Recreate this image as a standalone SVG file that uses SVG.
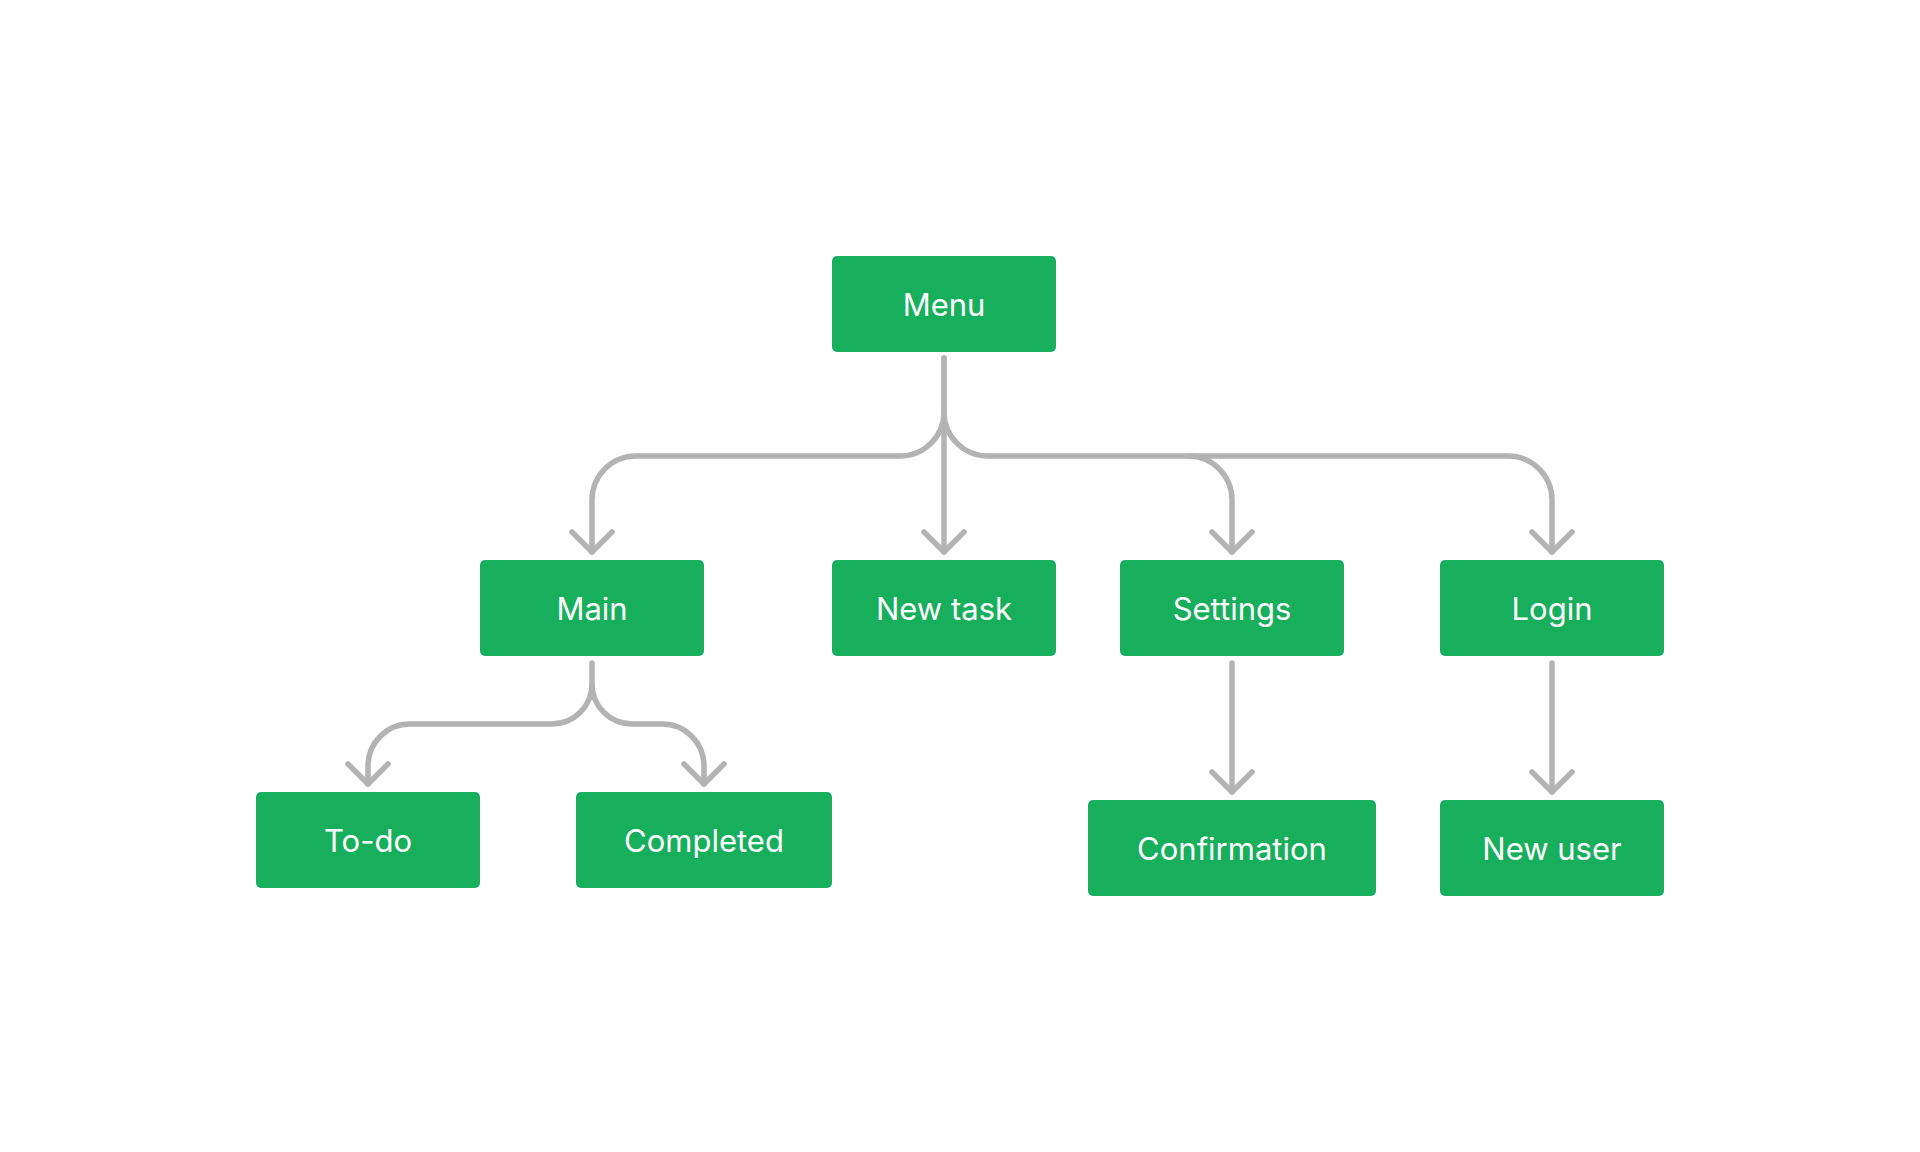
<svg xmlns="http://www.w3.org/2000/svg" width="1920" height="1152" viewBox="0 0 1920 1152">
  <style>
    .box { fill: #17AF5C; }
    .lbl { fill: #FFFFFF; font-family: Inter, "Noto Sans", "Liberation Sans", sans-serif; font-size: 31px; font-weight: 400; text-anchor: middle; dominant-baseline: central; }
    .edge { fill: none; stroke: #B3B3B3; stroke-width: 5.5; stroke-linecap: round; stroke-linejoin: round; }
  </style>
  <rect width="1920" height="1152" fill="#FFFFFF"/>
  <g id="connectors">
    <path class="edge" d="M944,358 V552"/>
    <path class="edge" d="M924,532 L944,552 L964,532"/>
    <path class="edge" d="M944,358 V412 A44 44 0 0 1 900,456 H636 A44 44 0 0 0 592,500 V552"/>
    <path class="edge" d="M572,532 L592,552 L612,532"/>
    <path class="edge" d="M944,412 A44 44 0 0 0 988,456 H1188 A44 44 0 0 1 1232,500 V552"/>
    <path class="edge" d="M1212,532 L1232,552 L1252,532"/>
    <path class="edge" d="M1188,456 H1508 A44 44 0 0 1 1552,500 V552"/>
    <path class="edge" d="M1532,532 L1552,552 L1572,532"/>
    <path class="edge" d="M592,663 V684 A40 40 0 0 1 552,724 H410 A42 42 0 0 0 368,766 V784"/>
    <path class="edge" d="M348,764 L368,784 L388,764"/>
    <path class="edge" d="M592,684 A40 40 0 0 0 632,724 H662 A42 42 0 0 1 704,766 V784"/>
    <path class="edge" d="M684,764 L704,784 L724,764"/>
    <path class="edge" d="M1232,663 V792"/>
    <path class="edge" d="M1212,772 L1232,792 L1252,772"/>
    <path class="edge" d="M1552,663 V792"/>
    <path class="edge" d="M1532,772 L1552,792 L1572,772"/>
  </g>
  <g id="menu"><rect class="box" x="832" y="256" width="224" height="96" rx="5"/><text class="lbl" x="944" y="304">Menu</text></g>
  <g id="main"><rect class="box" x="480" y="560" width="224" height="96" rx="5"/><text class="lbl" x="592" y="608">Main</text></g>
  <g id="new-task"><rect class="box" x="832" y="560" width="224" height="96" rx="5"/><text class="lbl" x="944" y="608">New task</text></g>
  <g id="settings"><rect class="box" x="1120" y="560" width="224" height="96" rx="5"/><text class="lbl" x="1232" y="608">Settings</text></g>
  <g id="login"><rect class="box" x="1440" y="560" width="224" height="96" rx="5"/><text class="lbl" x="1552" y="608">Login</text></g>
  <g id="to-do"><rect class="box" x="256" y="792" width="224" height="96" rx="5"/><text class="lbl" x="368" y="840">To-do</text></g>
  <g id="completed"><rect class="box" x="576" y="792" width="256" height="96" rx="5"/><text class="lbl" x="704" y="840">Completed</text></g>
  <g id="confirmation"><rect class="box" x="1088" y="800" width="288" height="96" rx="5"/><text class="lbl" x="1232" y="848">Confirmation</text></g>
  <g id="new-user"><rect class="box" x="1440" y="800" width="224" height="96" rx="5"/><text class="lbl" x="1552" y="848">New user</text></g>
</svg>
